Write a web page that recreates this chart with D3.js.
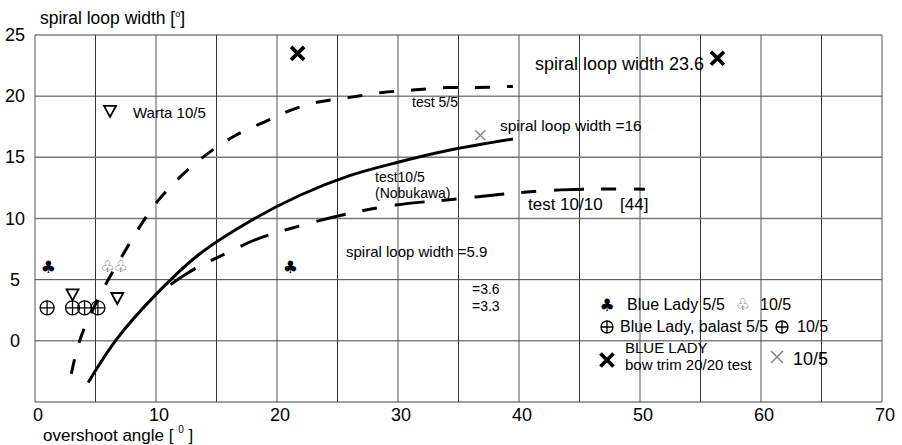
<!DOCTYPE html>
<html>
<head>
<meta charset="utf-8">
<script src="https://cdn.jsdelivr.net/npm/d3@7"></script>
<style>
  body { margin: 0; background: #fff; }
  svg { display: block; font-family: 'Liberation Sans', Arial, sans-serif; }
</style>
</head>
<body>
<div class="chart"></div>
<script>
'use strict';

// axis ticks
const xTicks = [0, 10, 20, 30, 40, 50, 60, 70];
const yTicks = [0, 5, 10, 15, 20, 25];
const xGrid = [0, 5, 10, 15, 20, 25, 30, 35, 40, 45, 50, 55, 60, 65, 70];
const yGrid = [-5, 0, 5, 10, 15, 20, 25];

// test10/5 (Nobukawa) - solid
const nobuX = [4.4, 6.8, 10, 13.6, 17.8, 21.9, 26, 30, 34.3, 39.5];
const nobuY = [-3.4, 0.2, 3.8, 7.1, 9.8, 11.9, 13.5, 14.6, 15.6, 16.5];

// test 5/5 - short dashes
const fiveX = [3.0, 3.5, 4.1, 5.0, 6.0, 7.3, 8.7, 10.2, 12, 14, 16.4, 19.2, 21, 23.3, 26, 28.7, 31.2, 33.9, 36.5, 39.5];
const fiveY = [-2.7, -0.6, 1.1, 3.0, 4.9, 7.1, 9.4, 11.5, 13.4, 15.1, 16.7, 18, 18.8, 19.5, 19.9, 20.3, 20.5, 20.7, 20.7, 20.8];

// test 10/10 [44] - long/short dashes
const tenX = [11.2, 12.4, 13.6, 15.9, 18.3, 21.9, 25.9, 29.8, 34.9, 38.8, 42.7, 46.5, 50.4];
const tenY = [4.6, 5.4, 6.1, 7.2, 8.3, 9.4, 10.4, 11.1, 11.6, 12.0, 12.3, 12.4, 12.4];

// measured points
const clubX = [1.1, 21.1];
const clubY = [6.0, 6.0];
const openClubX = [6.0, 7.1];
const openClubY = [6.1, 6.1];
const plusX = [1.0, 3.1, 4.1, 5.2];
const plusY = [2.7, 2.7, 2.7, 2.7];
const triX = [3.1, 6.8, 6.2];
const triY = [3.8, 3.5, 18.8];
const boldCrossX = [21.7, 56.4];
const boldCrossY = [23.5, 23.1];
const thinCrossX = [36.8];
const thinCrossY = [16.8];

const W = 902;
const H = 445;

const x = d3.scaleLinear().domain([0, 70]).range([35, 882]);
const y = d3.scaleLinear().domain([-5, 25]).range([402, 35]);

const svg = d3.select('.chart')
  .append('svg')
    .attr('width', W)
    .attr('height', H);

// grid
svg.append('g')
  .selectAll('line')
  .data(xGrid)
  .enter()
  .append('line')
    .attr('x1', (d) => x(d))
    .attr('x2', (d) => x(d))
    .attr('y1', y(25))
    .attr('y2', y(-5))
    .attr('stroke', (d) => d % 10 === 5 ? '#333' : '#555')
    .attr('stroke-width', 1);

svg.append('g')
  .selectAll('line')
  .data(yGrid)
  .enter()
  .append('line')
    .attr('x1', x(0))
    .attr('x2', x(70))
    .attr('y1', (d) => y(d))
    .attr('y2', (d) => y(d))
    .attr('stroke', (d) => (d === 10 || d === 15) ? '#777' : '#444')
    .attr('stroke-width', (d) => (d === 10 || d === 15) ? 1.5 : 1);

// tick labels
svg.append('g')
  .selectAll('text')
  .data(xTicks)
  .enter()
  .append('text')
    .attr('x', (d) => x(d) + 3)
    .attr('y', 421)
    .attr('text-anchor', 'middle')
    .attr('font-size', 18)
    .text((d) => d);

svg.append('g')
  .selectAll('text')
  .data(yTicks)
  .enter()
  .append('text')
    .attr('x', 15)
    .attr('y', (d) => y(d) + 6)
    .attr('text-anchor', 'middle')
    .attr('font-size', 18)
    .text((d) => d);

// axis titles
const yTitle = svg.append('text')
  .attr('x', 40)
  .attr('y', 24)
  .attr('font-size', 17.5);
yTitle.append('tspan').text('spiral loop width [');
yTitle.append('tspan').attr('font-size', 9).attr('dy', -7).text('o');
yTitle.append('tspan').attr('dy', 7).text(']');

const xTitle = svg.append('text')
  .attr('x', 43)
  .attr('y', 441)
  .attr('font-size', 17);
xTitle.append('tspan').text('overshoot angle [ ');
xTitle.append('tspan').attr('font-size', 10).attr('dy', -8).text('0');
xTitle.append('tspan').attr('dy', 8).text(' ]');

// curves
const zip = (xs, ys) => xs.map((v, i) => [v, ys[i]]);
const line = d3.line()
  .x((d) => x(d[0]))
  .y((d) => y(d[1]))
  .curve(d3.curveCatmullRom.alpha(0.5));

svg.append('path')
  .attr('d', line(zip(fiveX, fiveY)))
  .attr('fill', 'none')
  .attr('stroke', '#000')
  .attr('stroke-width', 3)
  .attr('stroke-dasharray', '15,17');

svg.append('path')
  .attr('d', line(zip(tenX, tenY)))
  .attr('fill', 'none')
  .attr('stroke', '#000')
  .attr('stroke-width', 3)
  .attr('stroke-dasharray', '30,17,15,18');

svg.append('path')
  .attr('d', line(zip(nobuX, nobuY)))
  .attr('fill', 'none')
  .attr('stroke', '#000')
  .attr('stroke-width', 3);

// markers
function club(g, px, py, filled) {
  g.append('text')
    .attr('x', px)
    .attr('y', py + 6)
    .attr('text-anchor', 'middle')
    .attr('font-family', 'DejaVu Sans')
    .attr('font-size', filled ? 17 : 16)
    .attr('fill', filled ? '#000' : '#666')
    .text(filled ? '\u2663' : '\u2667');
}

function circlePlus(g, px, py, r) {
  g.append('circle')
    .attr('cx', px).attr('cy', py).attr('r', r)
    .attr('fill', 'none').attr('stroke', '#000').attr('stroke-width', 1.3);
  g.append('path')
    .attr('d', `M${px - r},${py}H${px + r}M${px},${py - r}V${py + r}`)
    .attr('stroke', '#000').attr('stroke-width', 1.3);
}

function triangle(g, px, py) {
  g.append('path')
    .attr('d', `M${px - 6},${py - 5}H${px + 6}L${px},${py + 6}Z`)
    .attr('fill', 'none').attr('stroke', '#000').attr('stroke-width', 1.8);
}

function cross(g, px, py, s, color, w) {
  g.append('path')
    .attr('d', `M${px - s},${py - s}L${px + s},${py + s}M${px - s},${py + s}L${px + s},${py - s}`)
    .attr('stroke', color).attr('stroke-width', w);
}

const marks = svg.append('g');
clubX.forEach((v, i) => club(marks, x(v), y(clubY[i]), true));
openClubX.forEach((v, i) => club(marks, x(v), y(openClubY[i]), false));
plusX.forEach((v, i) => circlePlus(marks, x(v), y(plusY[i]), 7));
triX.forEach((v, i) => triangle(marks, x(v), y(triY[i])));
boldCrossX.forEach((v, i) => cross(marks, x(v), y(boldCrossY[i]), 6.5, '#000', 3.8));
thinCrossX.forEach((v, i) => cross(marks, x(v), y(thinCrossY[i]), 5, '#888', 1.5));

// annotations
const notes = [
  {t: 'Warta 10/5', x: 133, y: 118, s: 15},
  {t: 'test 5/5', x: 412, y: 107, s: 14},
  {t: 'spiral loop width =16', x: 500, y: 131, s: 15.5},
  {t: 'spiral loop width 23.6', x: 535, y: 70, s: 18},
  {t: 'test10/5', x: 375, y: 182, s: 14},
  {t: '(Nobukawa)', x: 375, y: 198, s: 14},
  {t: 'test 10/10', x: 528, y: 210, s: 17},
  {t: '[44]', x: 620, y: 210, s: 17},
  {t: 'spiral loop width =5.9', x: 346, y: 257, s: 15},
  {t: '=3.6', x: 472, y: 294, s: 14},
  {t: '=3.3', x: 472, y: 311, s: 14},
  {t: 'Blue Lady 5/5', x: 627, y: 310, s: 16},
  {t: '10/5', x: 760, y: 310, s: 16},
  {t: 'Blue Lady, balast 5/5', x: 620, y: 332, s: 16},
  {t: '10/5', x: 797, y: 332, s: 16},
  {t: 'BLUE LADY', x: 625, y: 353, s: 15},
  {t: 'bow trim 20/20 test', x: 625, y: 370, s: 15},
  {t: '10/5', x: 793, y: 365, s: 18}
];

svg.append('g')
  .selectAll('text')
  .data(notes)
  .enter()
  .append('text')
    .attr('x', (d) => d.x)
    .attr('y', (d) => d.y)
    .attr('font-size', (d) => d.s)
    .text((d) => d.t);

// legend symbols
const leg = svg.append('g');
club(leg, 607, 305, true);
club(leg, 743, 304, false);
circlePlus(leg, 607, 327, 6);
circlePlus(leg, 782, 327, 6);
cross(leg, 607, 360, 6.5, '#000', 3.8);
cross(leg, 777, 357, 6, '#888', 1.5);
</script>
</body>
</html>
